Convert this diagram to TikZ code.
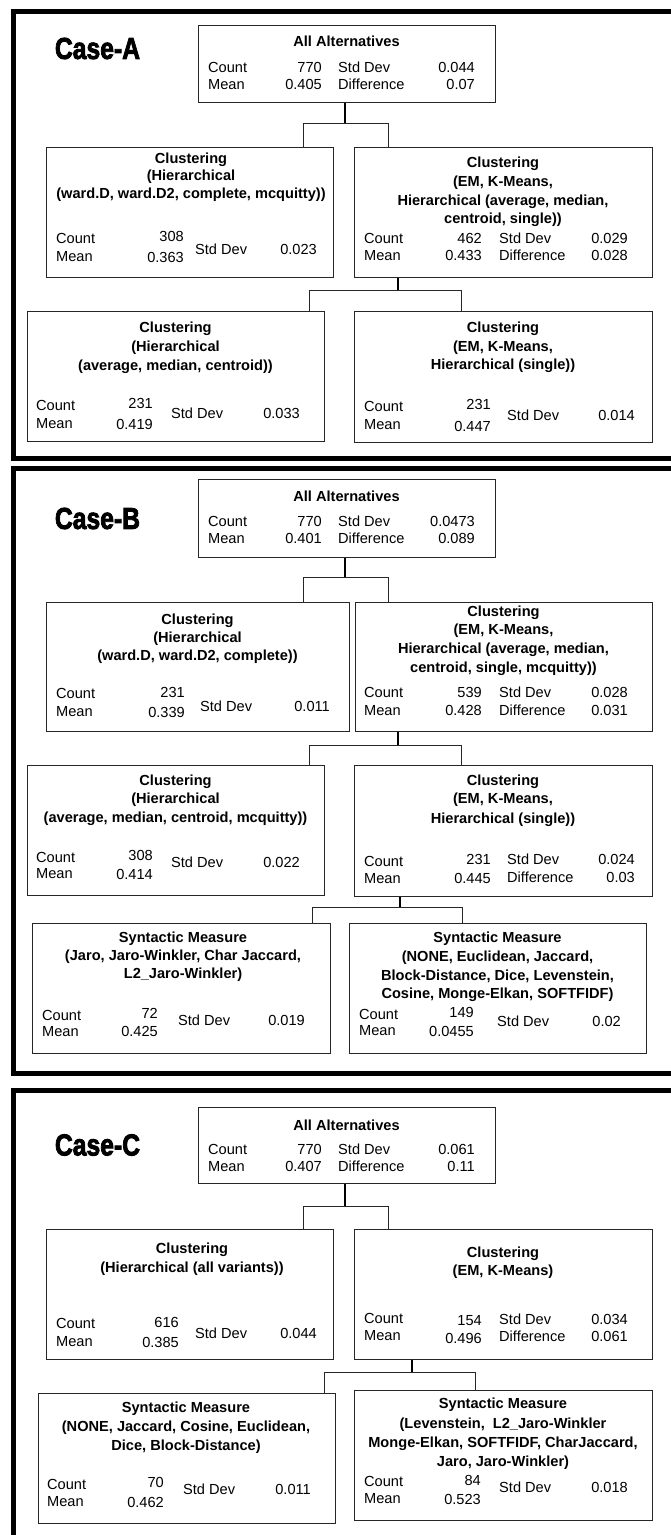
\documentclass[tikz,border=0pt]{standalone}
\usepackage{fontspec}
\usepackage{graphicx}
\setmainfont{Liberation Sans}
\newfontfamily\casefont[BoldFeatures={FakeBold=3}]{Liberation Sans}
\tikzset{
  tbox/.style={draw=black!85, line width=1.2pt, inner sep=0pt, anchor=north west},
  panel/.style={draw=black, line width=5pt},
  conn/.style={draw=black!85, line width=1pt},
  trunk/.style={draw=black, line width=2.4pt},
  txt/.style={inner sep=0pt, font=\fontsize{14.6}{17}\selectfont},
  ttl/.style={inner sep=0pt, anchor=base, font=\fontsize{14.6}{17}\selectfont\bfseries},
  caselbl/.style={inner sep=0pt, anchor=center, font=\casefont\bfseries\fontsize{26}{30}\selectfont}
}
\newcommand\bxN[5]{\node[tbox, minimum width={#4-#2}, minimum height={#5-#3}] (#1) at (#2,#3) {};}
\newcommand\txC[4]{\node[ttl] (#1) at (#2,#3+5) {#4};}
\newcommand\txL[4]{\node[txt, anchor=base west] (#1) at (#2,#3+5) {#4};}
\newcommand\txR[4]{\node[txt, anchor=base east] (#1) at (#2,#3+5) {#4};}
\newcommand\caseT[1]{\scalebox{0.95}[1.16]{#1}}
% split: prefix, trunk x, bar y, left x, right x, parent, left child, right child
\newcommand\splitN[8]{%
  \coordinate (#1j) at (#2,#3);
  \coordinate (#1l) at (#4,#3);
  \coordinate (#1r) at (#5,#3);
  \draw[conn] (#1l) -- (#1r);
  \draw[conn] (#1l) -- (#1l |- #7.north);
  \draw[conn] (#1r) -- (#1r |- #8.north);
  \draw[trunk] (#6.south -| #1j) -- (#1j);
}
\begin{document}
\begin{tikzpicture}[x=1pt,y=-1pt]
\useasboundingbox (0,0) rectangle (671,1535);
\clip (0,0) rectangle (671,1535);
\fill[white] (0,0) rectangle (671,1535);
% panels
\draw[panel] (13,11) rectangle (700,458);
\draw[panel] (13,468) rectangle (700,1073);
\draw[panel] (13,1090) rectangle (700,1600);

%================ Case A
\node[caselbl] (caseA) at (97.5,48.5) {\caseT{Case-A}};
\bxN{rootA}{198}{25}{495}{102}
\txC{rootAt}{346.5}{41}{All Alternatives}
\txL{rootAc}{208}{67}{Count}\txR{rootAcv}{322}{67}{770}\txL{rootAs}{338}{67}{Std Dev}\txR{rootAsv}{475}{67}{0.044}
\txL{rootAm}{208}{84}{Mean}\txR{rootAmv}{322}{84}{0.405}\txL{rootAd}{338}{84}{Difference}\txR{rootAdv}{475}{84}{0.07}

\bxN{lA}{46}{147}{333}{277}
\txC{lAt1}{191}{158}{Clustering}
\txC{lAt2}{191}{175.5}{(Hierarchical}
\txC{lAt3}{191}{193}{(ward.D, ward.D2, complete, mcquitty))}
\txL{lAc}{56}{238}{Count}\txR{lAcv}{184}{236}{308}
\txL{lAm}{56}{256}{Mean}\txR{lAmv}{184}{257}{0.363}
\txL{lAs}{195}{249}{Std Dev}\txR{lAsv}{317}{249}{0.023}

\bxN{rA}{354}{147}{652}{277}
\txC{rAt1}{503}{162}{Clustering}
\txC{rAt2}{503}{181}{(EM, K-Means,}
\txC{rAt3}{503}{200}{Hierarchical (average, median,}
\txC{rAt4}{503}{218.5}{centroid, single))}
\txL{rAc}{364}{238}{Count}\txR{rAcv}{482}{238}{462}\txL{rAs}{499}{238}{Std Dev}\txR{rAsv}{628}{238}{0.029}
\txL{rAm}{364}{255}{Mean}\txR{rAmv}{482}{255}{0.433}\txL{rAd}{499}{255}{Difference}\txR{rAdv}{628}{255}{0.028}

\bxN{llA}{27}{311}{324}{441}
\txC{llAt1}{175.5}{327}{Clustering}
\txC{llAt2}{175.5}{346}{(Hierarchical}
\txC{llAt3}{175.5}{365}{(average, median, centroid))}
\txL{llAc}{36}{405}{Count}\txR{llAcv}{153}{403}{231}
\txL{llAm}{36}{423}{Mean}\txR{llAmv}{153}{424}{0.419}
\txL{llAs}{171}{413}{Std Dev}\txR{llAsv}{300}{413}{0.033}

\bxN{lrA}{354}{311}{652}{442}
\txC{lrAt1}{503}{327}{Clustering}
\txC{lrAt2}{503}{346}{(EM, K-Means,}
\txC{lrAt3}{503}{364}{Hierarchical (single))}
\txL{lrAc}{364}{406.5}{Count}\txR{lrAcv}{491}{404}{231}
\txL{lrAm}{364}{424}{Mean}\txR{lrAmv}{491}{426}{0.447}
\txL{lrAs}{507}{415}{Std Dev}\txR{lrAsv}{635}{415}{0.014}

\splitN{A1}{345}{123}{303}{388}{rootA}{lA}{rA}
\splitN{A2}{398}{290}{309}{461}{rA}{llA}{lrA}

%================ Case B
\node[caselbl] (caseB) at (97.5,518.5) {\caseT{Case-B}};
\bxN{rootB}{198}{479}{495}{557}
\txC{rootBt}{346.5}{496}{All Alternatives}
\txL{rootBc}{208}{521}{Count}\txR{rootBcv}{322}{521}{770}\txL{rootBs}{338}{521}{Std Dev}\txR{rootBsv}{475}{521}{0.0473}
\txL{rootBm}{208}{538}{Mean}\txR{rootBmv}{322}{538}{0.401}\txL{rootBd}{338}{538}{Difference}\txR{rootBdv}{475}{538}{0.089}

\bxN{lB}{46}{602}{349}{731}
\txC{lBt1}{197.5}{619}{Clustering}
\txC{lBt2}{197.5}{637}{(Hierarchical}
\txC{lBt3}{197.5}{655}{(ward.D, ward.D2, complete))}
\txL{lBc}{56}{693}{Count}\txR{lBcv}{185}{692}{231}
\txL{lBm}{56}{711}{Mean}\txR{lBmv}{185}{712}{0.339}
\txL{lBs}{200}{706}{Std Dev}\txR{lBsv}{330}{706}{0.011}

\bxN{rB}{355}{602}{652}{731}
\txC{rBt1}{503.5}{611}{Clustering}
\txC{rBt2}{503.5}{629}{(EM, K-Means,}
\txC{rBt3}{503.5}{648}{Hierarchical (average, median,}
\txC{rBt4}{503.5}{667}{centroid, single, mcquitty))}
\txL{rBc}{364}{692}{Count}\txR{rBcv}{482}{692}{539}\txL{rBs}{499}{692}{Std Dev}\txR{rBsv}{628}{692}{0.028}
\txL{rBm}{364}{710}{Mean}\txR{rBmv}{482}{710}{0.428}\txL{rBd}{499}{710}{Difference}\txR{rBdv}{628}{710}{0.031}

\bxN{llB}{27}{765}{324}{895}
\txC{llBt1}{175.5}{780}{Clustering}
\txC{llBt2}{175.5}{798}{(Hierarchical}
\txC{llBt3}{175.5}{817}{(average, median, centroid, mcquitty))}
\txL{llBc}{36}{857}{Count}\txR{llBcv}{153}{855}{308}
\txL{llBm}{36}{873.5}{Mean}\txR{llBmv}{153}{874.5}{0.414}
\txL{llBs}{171}{862}{Std Dev}\txR{llBsv}{300}{862}{0.022}

\bxN{lrB}{354}{765}{652}{896}
\txC{lrBt1}{503}{780}{Clustering}
\txC{lrBt2}{503}{798}{(EM, K-Means,}
\txC{lrBt3}{503}{818}{Hierarchical (single))}
\txL{lrBc}{364}{861}{Count}\txR{lrBcv}{491}{859}{231}\txL{lrBs}{507}{859}{Std Dev}\txR{lrBsv}{635}{859}{0.024}
\txL{lrBm}{364}{878}{Mean}\txR{lrBmv}{491}{878}{0.445}\txL{lrBd}{507}{877}{Difference}\txR{lrBdv}{635}{877}{0.03}

\bxN{xlB}{32}{923}{330}{1053}
\txC{xlBt1}{183}{937}{Syntactic Measure}
\txC{xlBt2}{183}{955}{(Jaro, Jaro-Winkler, Char Jaccard,}
\txC{xlBt3}{183}{973}{L2\_Jaro-Winkler)}
\txL{xlBc}{42}{1015}{Count}\txR{xlBcv}{158}{1013}{72}
\txL{xlBm}{42}{1031.5}{Mean}\txR{xlBmv}{158}{1031}{0.425}
\txL{xlBs}{178}{1020}{Std Dev}\txR{xlBsv}{305}{1020}{0.019}

\bxN{xrB}{349}{923}{646}{1053}
\txC{xrBt1}{497.5}{937}{Syntactic Measure}
\txC{xrBt2}{497.5}{956}{(NONE, Euclidean, Jaccard,}
\txC{xrBt3}{497.5}{975}{Block-Distance, Dice, Levenstein,}
\txC{xrBt4}{497.5}{993}{Cosine, Monge-Elkan, SOFTFIDF)}
\txL{xrBc}{359}{1014}{Count}\txR{xrBcv}{474}{1012.5}{149}
\txL{xrBm}{359}{1030.5}{Mean}\txR{xrBmv}{474}{1031}{0.0455}
\txL{xrBs}{497}{1021.5}{Std Dev}\txR{xrBsv}{621}{1021.5}{0.02}

\splitN{B1}{345}{577}{303}{388}{rootB}{lB}{rB}
\splitN{B2}{398}{745}{309}{461}{rB}{llB}{lrB}
\splitN{B3}{400}{907}{312}{462}{lrB}{xlB}{xrB}

%================ Case C
\node[caselbl] (caseC) at (97.5,1145) {\caseT{Case-C}};
\bxN{rootC}{198}{1107}{495}{1183}
\txC{rootCt}{346.5}{1125}{All Alternatives}
\txL{rootCc}{208}{1149}{Count}\txR{rootCcv}{322}{1149}{770}\txL{rootCs}{338}{1149}{Std Dev}\txR{rootCsv}{475}{1149}{0.061}
\txL{rootCm}{208}{1166}{Mean}\txR{rootCmv}{322}{1166}{0.407}\txL{rootCd}{338}{1166}{Difference}\txR{rootCdv}{475}{1166}{0.11}

\bxN{lC}{46}{1229}{333}{1359}
\txC{lCt1}{192}{1248}{Clustering}
\txC{lCt2}{192}{1267}{(Hierarchical (all variants))}
\txL{lCc}{56}{1323}{Count}\txR{lCcv}{179}{1322}{616}
\txL{lCm}{56}{1341}{Mean}\txR{lCmv}{179}{1342}{0.385}
\txL{lCs}{195}{1333}{Std Dev}\txR{lCsv}{317}{1333}{0.044}

\bxN{rC}{354}{1229}{652}{1359}
\txC{rCt1}{503}{1252}{Clustering}
\txC{rCt2}{503}{1270}{(EM, K-Means)}
\txL{rCc}{364}{1318}{Count}\txR{rCcv}{482}{1320}{154}\txL{rCs}{499}{1319}{Std Dev}\txR{rCsv}{628}{1319}{0.034}
\txL{rCm}{364}{1335}{Mean}\txR{rCmv}{482}{1338}{0.496}\txL{rCd}{499}{1336}{Difference}\txR{rCdv}{628}{1336}{0.061}

\bxN{llC}{38}{1393}{335}{1523}
\txC{llCt1}{186}{1407}{Syntactic Measure}
\txC{llCt2}{186}{1426}{(NONE, Jaccard, Cosine, Euclidean,}
\txC{llCt3}{186}{1445}{Dice, Block-Distance)}
\txL{llCc}{47}{1484}{Count}\txR{llCcv}{164}{1482}{70}
\txL{llCm}{47}{1501}{Mean}\txR{llCmv}{164}{1502}{0.462}
\txL{llCs}{183}{1489}{Std Dev}\txR{llCsv}{311}{1489}{0.011}

\bxN{lrC}{354}{1390}{652}{1520}
\txC{lrCt1}{503}{1403}{Syntactic Measure}
\txC{lrCt2}{503}{1423}{(Levenstein,\ \ L2\_Jaro-Winkler}
\txC{lrCt3}{503}{1442}{Monge-Elkan, SOFTFIDF, CharJaccard,}
\txC{lrCt4}{503}{1461}{Jaro, Jaro-Winkler)}
\txL{lrCc}{364}{1481}{Count}\txR{lrCcv}{481}{1480}{84}
\txL{lrCm}{364}{1498}{Mean}\txR{lrCmv}{481}{1499}{0.523}
\txL{lrCs}{499}{1487}{Std Dev}\txR{lrCsv}{628}{1487}{0.018}

\splitN{C1}{345}{1206}{303}{388}{rootC}{lC}{rC}
\splitN{C2}{412}{1372}{324}{475}{rC}{llC}{lrC}
\end{tikzpicture}
\end{document}
